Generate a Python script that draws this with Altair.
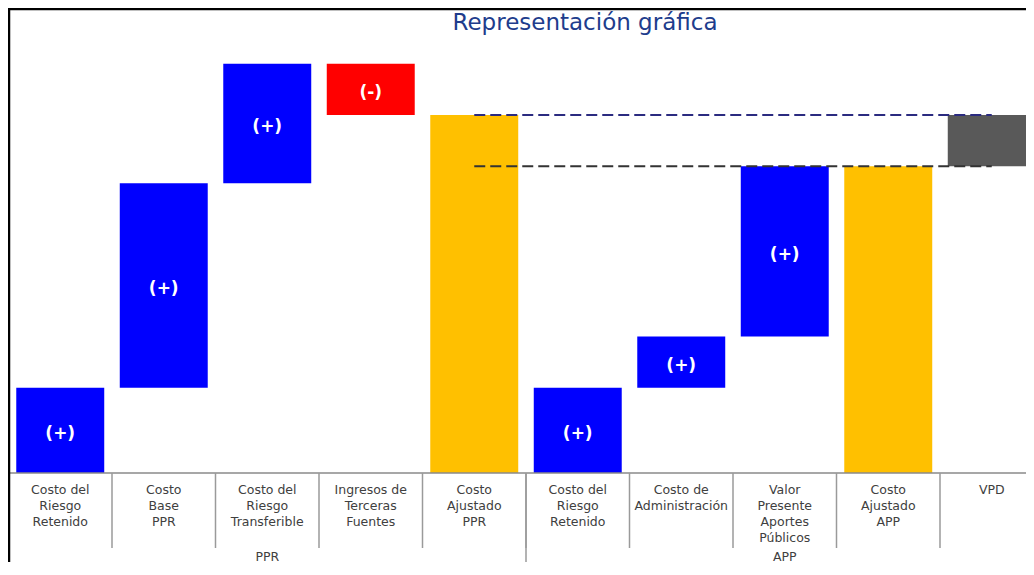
import altair as alt
import pandas as pd

# ---------------- data ----------------
title_text = ["Representación gráfica"]
groups = ["PPR", "PPR", "PPR", "PPR", "PPR", "APP", "APP", "APP", "APP", "APP"]
labels = [
    "Costo del\nRiesgo\nRetenido",
    "Costo\nBase\nPPR",
    "Costo del\nRiesgo\nTransferible",
    "Ingresos de\nTerceras\nFuentes",
    "Costo\nAjustado\nPPR",
    "Costo del\nRiesgo\nRetenido",
    "Costo de\nAdministración",
    "Valor\nPresente\nAportes\nPúblicos",
    "Costo\nAjustado\nAPP",
    "VPD",
]
kinds = ["aumento", "aumento", "aumento", "disminución", "total",
         "aumento", "aumento", "aumento", "total", "diferencia"]
deltas = [20, 48, 28, -12, 0, 20, 12, 40, 0, 0]
group_names = ["PPR", "APP"]

# ---------------- waterfall table ----------------
rows = []
totals = {}
running = {}
for i, (lab, g, kind, d) in enumerate(zip(labels, groups, kinds, deltas)):
    r = running.get(g, 0)
    if kind in ("aumento", "disminución"):
        start, end = r, r + d
        running[g] = end
    elif kind == "total":
        start, end = 0, r
        totals[g] = r
    else:
        start, end = totals["APP"], totals["PPR"]
    rows.append({"idx": i, "label": lab, "group": g, "kind": kind, "start": start, "end": end,
                 "mid": (start + end) / 2,
                 "sign": "(+)" if kind == "aumento" else ("(-)" if kind == "disminución" else "")})
df = pd.DataFrame(rows)

df_groups = pd.DataFrame({
    "name": group_names,
    "center": [sum(i for i, g in enumerate(groups) if g == n) / groups.count(n) + 0.5 for n in group_names],
})
df_gsep = pd.DataFrame({"idx": [groups.index(n) for n in group_names]})
first_total = kinds.index("total")
df_lines = pd.DataFrame({
    "from": [first_total + 0.5, first_total + 0.5],
    "to": [len(labels) - 0.5, len(labels) - 0.5],
    "value": [totals["PPR"], totals["APP"]],
    "line": ["PPR", "APP"],
})

# ---------------- scales / encodings ----------------
W, H = 1018, 465
TOTAL_H = 554
BAND_PX = 103.5
xscale = alt.Scale(domain=[-0.5 / BAND_PX, (W - 0.5) / BAND_PX], nice=False, zero=False)
yscale = alt.Scale(domain=[0, 109.1], nice=False, zero=True)
label_font = "DejaVu Sans"
label_color = "#404040"


def XQ(field):
    return alt.X(f"{field}:Q", scale=xscale, axis=None, title=None)


def YQ(field):
    return alt.Y(f"{field}:Q", scale=yscale, axis=None, title=None)


color_scale = alt.Scale(
    domain=["aumento", "disminución", "total", "diferencia"],
    range=["#0000FF", "#FF0000", "#FFC000", "#595959"],
)

base = alt.Chart(df)

bars = base.transform_calculate(
    x0="datum.idx + 0.075", x1="datum.idx + 0.925"
).mark_bar(clip=True).encode(
    x=XQ("x0"), x2="x1:Q",
    y=YQ("start"), y2="end:Q",
    color=alt.Color("kind:N", scale=color_scale, legend=None),
)

signs = base.transform_filter("datum.sign != ''").transform_calculate(
    xc="datum.idx + 0.5"
).mark_text(
    font=label_font, fontSize=17, fontWeight="bold", color="white",
    baseline="middle", align="center", dy=3.5,
).encode(x=XQ("xc"), y=YQ("mid"), text="sign:N")

lines = alt.Chart(df_lines).mark_rule(strokeDash=[11, 5], strokeWidth=2, clip=True).encode(
    x=XQ("from"), x2="to:Q",
    y=YQ("value"),
    stroke=alt.Stroke("line:N", scale=alt.Scale(domain=["PPR", "APP"], range=["#2B2B80", "#333333"]), legend=None),
)

baseline = alt.Chart(pd.DataFrame({"a": [0]})).mark_rule(color="#8a8a8a", strokeWidth=1.5).encode(
    x=alt.value(0), x2=alt.value(W), y=alt.value(H)
)

seps = base.mark_rule(color="#9a9a9a", strokeWidth=1.5).encode(
    x=XQ("idx"), y=alt.value(H), y2=alt.value(540)
)

gseps = alt.Chart(df_gsep).mark_rule(color="#9a9a9a", strokeWidth=1.5).encode(
    x=XQ("idx"), y=alt.value(H), y2=alt.value(TOTAL_H)
)

cat_text = base.transform_calculate(xc="datum.idx + 0.5").mark_text(
    font=label_font, fontSize=12.5, color=label_color, baseline="top", align="center",
    lineBreak="\n", lineHeight=16,
).encode(x=XQ("xc"), y=alt.value(476), text="label:N")

group_text = alt.Chart(df_groups).mark_text(
    font=label_font, fontSize=12.5, color=label_color, baseline="middle", align="center",
).encode(x=XQ("center"), y=alt.value(548.5), text="name:N")

title = alt.Chart(pd.DataFrame({"t": title_text})).mark_text(
    font=label_font, fontSize=23, color="#203C8C", baseline="alphabetic", align="center",
).encode(x=alt.value(577), y=alt.value(22), text="t:N")

frame_top = alt.Chart(pd.DataFrame({"a": [0]})).mark_rule(color="black", strokeWidth=2.5).encode(
    x=alt.value(0), x2=alt.value(W), y=alt.value(1)
)
frame_left = alt.Chart(pd.DataFrame({"a": [0]})).mark_rule(color="black", strokeWidth=2.5).encode(
    x=alt.value(1), y=alt.value(0), y2=alt.value(TOTAL_H)
)

chart = alt.layer(
    bars, signs, lines, baseline, seps, gseps, cat_text, group_text, title, frame_top, frame_left
).properties(
    width=W, height=H, autosize="none",
    padding={"left": 0, "top": 0, "right": 0, "bottom": TOTAL_H - H},
    background="white",
).configure_view(stroke=None)

chart.save("out.html", embed_options={"renderer": "svg", "actions": False})
